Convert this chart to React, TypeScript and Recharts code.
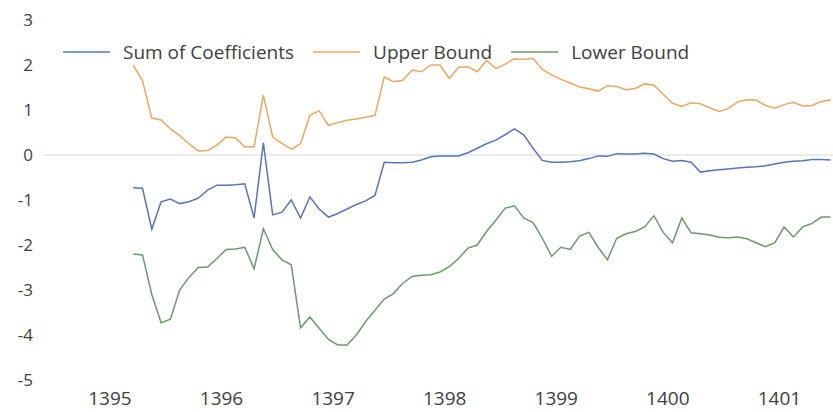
import React from 'react';
import { LineChart, Line, XAxis, YAxis, ReferenceLine } from 'recharts';

// Monthly observations, first one about 2.5 months into 1395
const firstMonth = 1395 + 2.5 / 12;

const sumOfCoefficients = [
  -0.73, -0.74, -1.65, -1.04, -0.98, -1.08, -1.04, -0.96, -0.78, -0.67,
  -0.67, -0.66, -0.64, -1.4, 0.27, -1.33, -1.27, -1.0, -1.4, -0.93,
  -1.2, -1.38, -1.3, -1.2, -1.1, -1.02, -0.9, -0.16, -0.17, -0.17,
  -0.16, -0.11, -0.04, -0.02, -0.02, -0.02, 0.05, 0.15, 0.25, 0.33,
  0.45, 0.58, 0.45, 0.15, -0.12, -0.16, -0.16, -0.15, -0.13, -0.08,
  -0.02, -0.03, 0.03, 0.02, 0.02, 0.04, 0.02, -0.08, -0.14, -0.12,
  -0.16, -0.38, -0.35, -0.33, -0.31, -0.29, -0.27, -0.26, -0.24, -0.2,
  -0.16, -0.14, -0.13, -0.1, -0.1, -0.11,
];

const upperBound = [
  2.0, 1.65, 0.82, 0.78, 0.58, 0.43, 0.25, 0.09, 0.1, 0.22,
  0.4, 0.38, 0.18, 0.18, 1.33, 0.4, 0.26, 0.13, 0.25, 0.88,
  0.98, 0.66, 0.72, 0.77, 0.8, 0.84, 0.88, 1.73, 1.63, 1.66,
  1.89, 1.85, 2.0, 2.0, 1.7, 1.95, 1.96, 1.85, 2.1, 1.92,
  2.02, 2.14, 2.12, 2.15, 1.9, 1.78, 1.68, 1.6, 1.51, 1.47,
  1.42, 1.54, 1.52, 1.45, 1.48, 1.58, 1.55, 1.35, 1.15, 1.08,
  1.16, 1.14, 1.05, 0.97, 1.03, 1.18, 1.23, 1.22, 1.1, 1.04,
  1.12, 1.17, 1.09, 1.1, 1.19, 1.22,
];

const lowerBound = [
  -2.2, -2.22, -3.1, -3.73, -3.65, -3.0, -2.72, -2.5, -2.49, -2.3,
  -2.1, -2.09, -2.05, -2.53, -1.64, -2.1, -2.33, -2.44, -3.84, -3.6,
  -3.85, -4.1, -4.22, -4.22, -4.0, -3.7, -3.45, -3.2, -3.08, -2.85,
  -2.7, -2.67, -2.66, -2.6, -2.48, -2.3, -2.07, -2.0, -1.7, -1.45,
  -1.18, -1.13, -1.4, -1.5, -1.85, -2.25, -2.05, -2.1, -1.8, -1.72,
  -2.05, -2.33, -1.85, -1.75, -1.7, -1.6, -1.35, -1.72, -1.95, -1.4,
  -1.73, -1.75, -1.78, -1.83, -1.84, -1.82, -1.86, -1.95, -2.04, -1.95,
  -1.6, -1.82, -1.6, -1.52, -1.38, -1.38,
];

const yearTicks = [1395, 1396, 1397, 1398, 1399, 1400, 1401];
const valueTicks = [-5, -4, -3, -2, -1, 0, 1, 2, 3];

const series = [
  { key: 'sum', name: 'Sum of Coefficients', color: '#5a74b4' },
  { key: 'upper', name: 'Upper Bound', color: '#e9a862' },
  { key: 'lower', name: 'Lower Bound', color: '#6b9a6b' },
];

const data = sumOfCoefficients.map((s, i) => ({
  t: firstMonth + i / 12,
  sum: s,
  upper: upperBound[i],
  lower: lowerBound[i],
}));

const FONT = '"Open Sans", sans-serif';

function LegendContent() {
  return (
    <div style={{ display: 'flex', alignItems: 'center', fontFamily: FONT, fontSize: 19, color: '#404040', whiteSpace: 'nowrap', lineHeight: '24px' }}>
      {series.map((s) => (
        <div key={s.key} style={{ display: 'flex', alignItems: 'center', marginRight: 19 }}>
          <svg width={47} height={4} style={{ marginRight: 13 }}>
            <line x1={0} y1={2} x2={47} y2={2} stroke={s.color} strokeWidth={1.5} />
          </svg>
          <span>{s.name}</span>
        </div>
      ))}
    </div>
  );
}

export default function App() {
  return (
    <div style={{ position: 'absolute', left: 0, top: 0, width: 833, height: 412, background: '#fff' }}>
      <LineChart width={833} height={412} data={data} margin={{ top: 20, right: 0, bottom: 0, left: 0 }}>
        <XAxis
          dataKey="t"
          type="number"
          domain={[1394.4, 1401.48]}
          ticks={yearTicks}
          axisLine={false}
          tickLine={false}
          height={32}
          tickMargin={6}
          tick={{ fontSize: 19, fill: '#404040', fontFamily: FONT }}
          allowDataOverflow
        />
        <YAxis
          type="number"
          domain={[-5, 3]}
          ticks={valueTicks}
          axisLine={false}
          tickLine={false}
          width={43}
          tickMargin={4}
          tick={{ fontSize: 17, fill: '#404040', fontFamily: FONT }}
        />
        <ReferenceLine y={0} stroke="#e6e6e6" strokeWidth={1.5} />
        {series.map((s) => (
          <Line
            key={s.key}
            type="linear"
            dataKey={s.key}
            name={s.name}
            stroke={s.color}
            strokeWidth={1.5}
            dot={false}
            isAnimationActive={false}
          />
        ))}
      </LineChart>
      <div style={{ position: 'absolute', left: 63, top: 40 }}>
        <LegendContent />
      </div>
    </div>
  );
}
